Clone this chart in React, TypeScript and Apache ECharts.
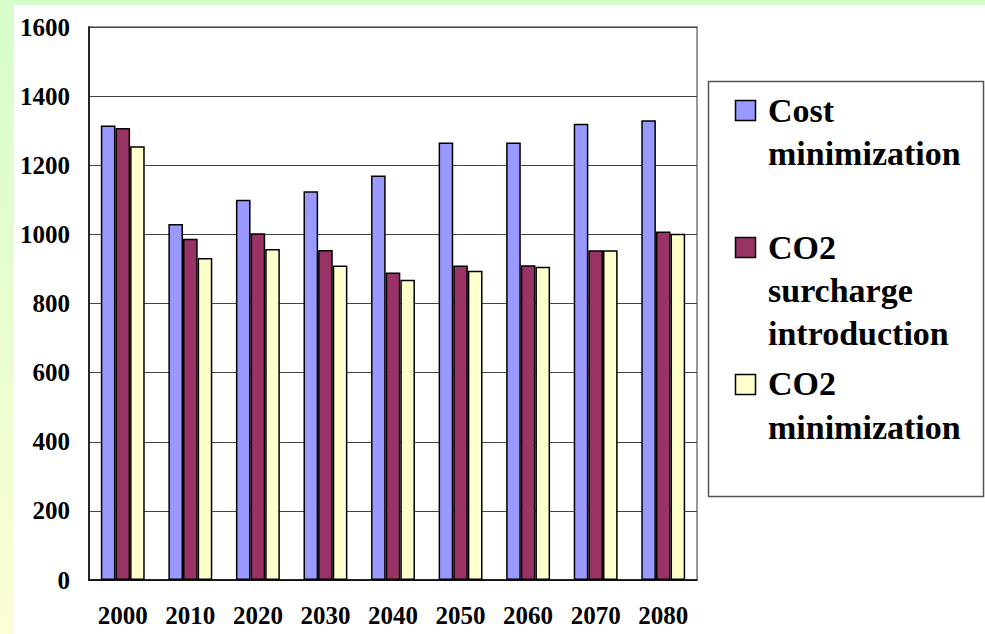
import React, { useEffect, useRef } from "react";
import * as echarts from "echarts";

const years = ["2000", "2010", "2020", "2030", "2040", "2050", "2060", "2070", "2080"];
const costMinimization = [1315, 1030, 1100, 1125, 1170, 1266, 1266, 1320, 1330];
const co2Surcharge = [1308, 987, 1003, 955, 890, 910, 911, 954, 1008];
const co2Minimization = [1255, 932, 958, 910, 869, 895, 906, 954, 1002];

const seriesNames = ["Cost minimization", "CO2 surcharge introduction", "CO2 minimization"];
const legendLines = [["Cost", "minimization"], ["CO2", "surcharge", "introduction"], ["CO2", "minimization"]];
const seriesColors = ["#9999ff", "#993366", "#ffffcc"];
const yTicks = { min: 0, max: 1600, step: 200 };

const FONT = "Liberation Serif, Times New Roman, serif";

export default function App() {
  const ref = useRef<HTMLDivElement>(null);

  useEffect(() => {
    if (!ref.current) return;
    const chart = echarts.init(ref.current, null, { renderer: "svg" });

    // legend layout: swatch top and text block top for each entry
    const legendPos = [
      { boxTop: 100, textTop: 89 },
      { boxTop: 237, textTop: 226 },
      { boxTop: 374, textTop: 361 },
    ];

    const legendGraphics: any[] = [
      {
        type: "rect",
        shape: { x: 708.5, y: 81.5, width: 275, height: 415 },
        style: { fill: "#ffffff", stroke: "#555", lineWidth: 1.5 },
        z: 5,
      },
    ];
    legendPos.forEach((p, i) => {
      legendGraphics.push({
        type: "rect",
        shape: { x: 735.5, y: p.boxTop + 0.5, width: 20, height: 20 },
        style: { fill: seriesColors[i], stroke: "#000", lineWidth: 1.5 },
        z: 6,
      });
    });

    const legendTitles = legendPos.map((p, i) => ({
      text: legendLines[i].join("\n"),
      left: 768,
      top: p.textTop,
      padding: 0,
      z: 10,
      textStyle: {
        fontFamily: FONT,
        fontSize: 34,
        fontWeight: "bold",
        color: "#000",
        lineHeight: i === 2 ? 44 : 43,
      },
    }));

    const bar = (name: string, data: number[], color: string) => ({
      name,
      type: "bar",
      data,
      barGap: "0%",
      barCategoryGap: "35%",
      itemStyle: { color, borderColor: "#000", borderWidth: 1.5 },
    });

    chart.setOption({
      animation: false,
      backgroundColor: "#ffffff",
      title: legendTitles,
      graphic: [
        {
          type: "rect",
          shape: { x: 0, y: 0, width: 985, height: 5 },
          style: { fill: "#d6fdca" },
          z: 1,
        },
        {
          type: "rect",
          shape: { x: 0, y: 0, width: 14, height: 634 },
          style: {
            fill: new echarts.graphic.LinearGradient(0, 0, 0, 1, [
              { offset: 0, color: "#d6fdca" },
              { offset: 1, color: "#fcffd6" },
            ]),
          },
          z: 1,
        },
        ...legendGraphics,
      ],
      grid: {
        left: 89,
        top: 27,
        right: 288,
        bottom: 54,
        show: true,
        borderColor: "#999",
        borderWidth: 2,
        backgroundColor: "#ffffff",
      },
      xAxis: {
        type: "category",
        data: years,
        axisLine: { lineStyle: { color: "#000", width: 1.5 } },
        axisTick: { inside: true, length: 6, lineStyle: { color: "#000" } },
        axisLabel: {
          fontFamily: FONT,
          fontWeight: "bold",
          fontSize: 25,
          color: "#000",
          margin: 23,
        },
      },
      yAxis: {
        type: "value",
        min: yTicks.min,
        max: yTicks.max,
        interval: yTicks.step,
        axisLine: { show: true, lineStyle: { color: "#000", width: 1.5 } },
        axisTick: { show: false },
        splitLine: { lineStyle: { color: "#444", width: 1 } },
        axisLabel: {
          fontFamily: FONT,
          fontWeight: "bold",
          fontSize: 25,
          color: "#000",
          margin: 19,
          formatter: (v: number) => String(v),
        },
      },
      series: [
        bar(seriesNames[0], costMinimization, seriesColors[0]),
        bar(seriesNames[1], co2Surcharge, seriesColors[1]),
        bar(seriesNames[2], co2Minimization, seriesColors[2]),
      ],
    });

    return () => chart.dispose();
  }, []);

  return (
    <div
      ref={ref}
      style={{ position: "fixed", left: 0, top: 0, width: 985, height: 634 }}
    />
  );
}
